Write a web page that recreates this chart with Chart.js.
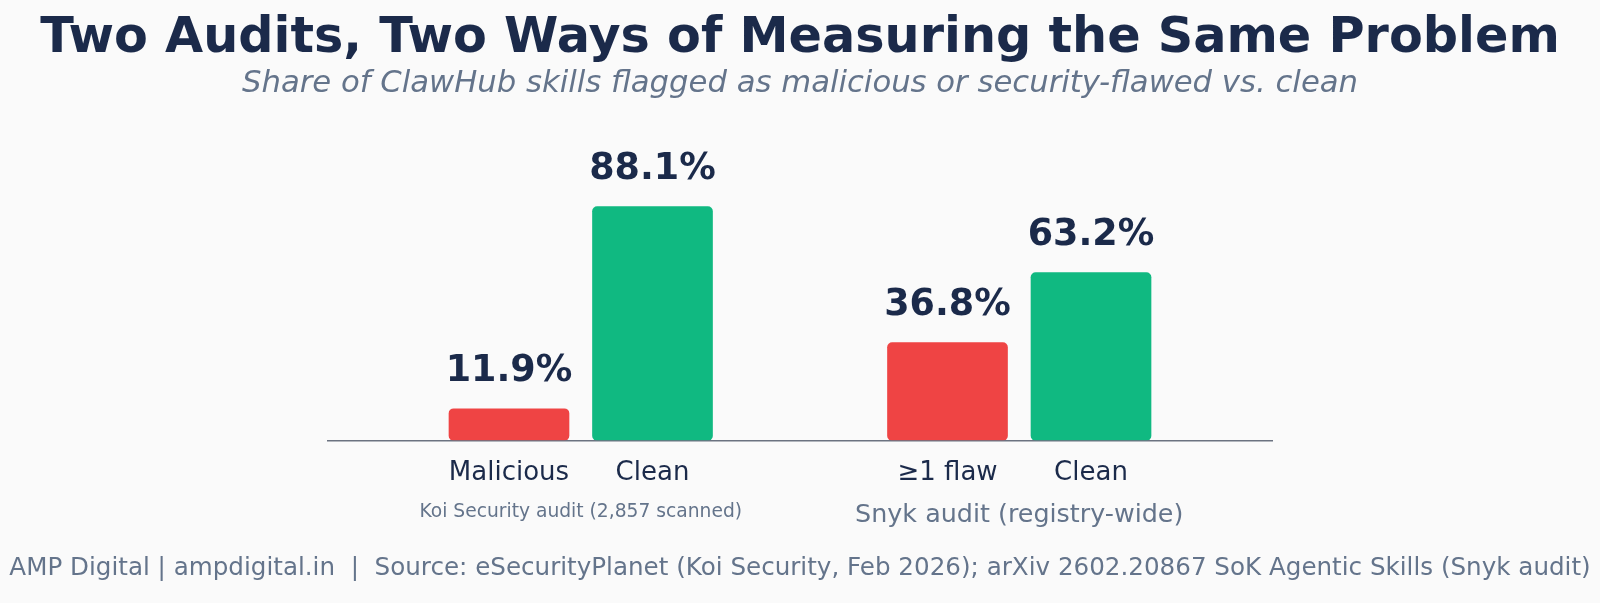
<!DOCTYPE html>
<html lang="en">
<head>
    <meta charset="UTF-8">
    <title>Two Audits, Two Ways of Measuring the Same Problem</title>
    <script src="https://cdn.jsdelivr.net/npm/chart.js"></script>
    <style>
        body {
            margin: 0;
            background-color: #fafafa;
        }
        .wrap {
            width: 1600px;
            height: 603px;
            position: relative;
        }
    </style>
</head>
<body>
    <div class="wrap"><canvas id="auditChart"></canvas></div>
    <script>
        // data
        const barLabels = ['Malicious', 'Clean', '\u22651 flaw', 'Clean'];
        const barPositions = [-0.18, 0.18, 0.92, 1.28];
        const shareValues = [11.9, 88.1, 36.8, 63.2];
        const barColors = ['#ef4444', '#10b981', '#ef4444', '#10b981'];
        const groupNames = ['Koi Security audit (2,857 scanned)', 'Snyk audit (registry-wide)'];
        const groupCenters = [0, 1.1];

        const titleText = 'Two Audits, Two Ways of Measuring the Same Problem';
        const subtitleText = 'Share of ClawHub skills flagged as malicious or security-flawed vs. clean';
        const footerText = 'AMP Digital | ampdigital.in  |  Source: eSecurityPlanet (Koi Security, Feb 2026); arXiv 2602.20867 SoK Agentic Skills (Snyk audit)';

        const FONT = '"DejaVu Sans", sans-serif';
        const NAVY = '#1b2a4a';
        const GREY = '#64748b';

        const textOverlay = {
            id: 'textOverlay',
            afterDatasetsDraw(chart) {
                const ctx = chart.ctx;
                const xScale = chart.scales.x;
                ctx.save();
                ctx.textAlign = 'center';
                ctx.textBaseline = 'middle';

                // value labels above bars
                ctx.fillStyle = NAVY;
                ctx.font = 'bold 36.5px ' + FONT;
                chart.getDatasetMeta(0).data.forEach((bar, i) => {
                    ctx.fillText(shareValues[i].toFixed(1) + '%', bar.x, bar.y - 37);
                });

                // group captions
                ctx.fillStyle = GREY;
                ctx.font = '18.7px ' + FONT;
                ctx.fillText(groupNames[0], xScale.getPixelForValue(groupCenters[0]), 512);
                ctx.font = '25.4px ' + FONT;
                ctx.fillText(groupNames[1], xScale.getPixelForValue(groupCenters[1]), 515);

                // title, subtitle, footer
                ctx.fillStyle = NAVY;
                ctx.font = 'bold 49.3px ' + FONT;
                ctx.fillText(titleText, 800, 39);
                ctx.fillStyle = GREY;
                ctx.font = 'italic 30.7px ' + FONT;
                ctx.fillText(subtitleText, 800, 84);
                ctx.font = '24.6px ' + FONT;
                ctx.fillText(footerText, 800, 569);
                ctx.restore();
            }
        };

        new Chart(document.getElementById('auditChart'), {
            type: 'bar',
            data: {
                datasets: [{
                    data: barPositions.map((x, i) => ({ x: x, y: shareValues[i] })),
                    backgroundColor: barColors,
                    borderRadius: 5,
                    borderSkipped: false,
                    barThickness: 120
                }]
            },
            options: {
                responsive: true,
                maintainAspectRatio: false,
                animation: false,
                layout: {
                    padding: { left: 328, right: 328, top: 175, bottom: 97.5 }
                },
                plugins: {
                    legend: { display: false },
                    tooltip: { enabled: false }
                },
                scales: {
                    x: {
                        type: 'linear',
                        offset: false,
                        min: -0.634,
                        max: 1.734,
                        afterBuildTicks: scale => {
                            scale.ticks = barPositions.map(v => ({ value: v }));
                        },
                        grid: { display: false, drawTicks: false, offset: false },
                        border: { color: '#6b7280', width: 1.5 },
                        ticks: {
                            autoSkip: false,
                            maxRotation: 0,
                            padding: 17,
                            color: NAVY,
                            font: { family: FONT, size: 26 },
                            callback: (value, index) => barLabels[index]
                        }
                    },
                    y: {
                        min: 0,
                        max: 100,
                        display: false
                    }
                }
            },
            plugins: [textOverlay]
        });
    </script>
</body>
</html>
